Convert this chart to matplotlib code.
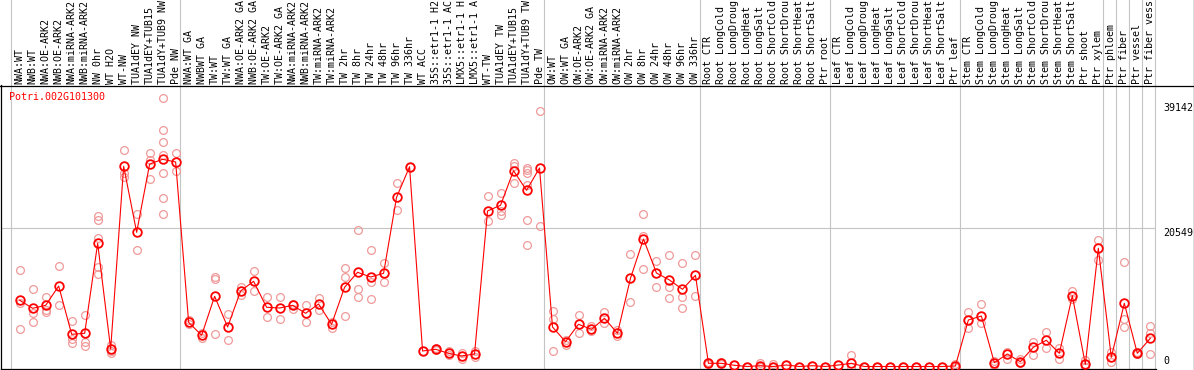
import numpy as np
import matplotlib
matplotlib.use("Agg")
import matplotlib.pyplot as plt
from matplotlib.lines import Line2D
from matplotlib.transforms import blended_transform_factory

plt.rcParams['font.family'] = ['DejaVu Sans Mono']

gene = 'Potri.002G101300'

labels = [
    "NWA:WT", "NWB:WT", "NWA:OE-ARK2", "NWB:OE-ARK2", "NWA:miRNA-ARK2", "NWB:miRNA-ARK2",
    "NW 0hr", "WT H2O", "WT-NW", "TUA1dEY NW", "TUA1dEY+TUB15", "TUA1dY+TUB9 NW", "Pde NW",
    "NWA:WT GA", "NWBWT GA", "TW:WT", "TW:WT GA", "NWA:OE-ARK2 GA", "NWB:OE-ARK2 GA",
    "TW:OE-ARK2", "TW:OE-ARK2 GA", "NWA:miRNA-ARK2", "NWB:miRNA-ARK2", "TW:miRNA-ARK2",
    "TW:miRNA-ARK2", "TW 2hr", "TW 8hr", "TW 24hr", "TW 48hr", "TW 96hr", "TW 336hr",
    "WT ACC", "35S::etr1-1 H2", "35S::etr1-1 AC", "LMX5::etr1-1 H", "LMX5::etr1-1 A",
    "WT-TW", "TUA1dEY TW", "TUA1dEY+TUB15", "TUA1dY+TUB9 TW", "Pde TW",
    "OW:WT", "OW:WT GA", "OW:OE-ARK2", "OW:OE-ARK2 GA", "OW:miRNA-ARK2", "OW:miRNA-ARK2",
    "OW 2hr", "OW 8hr", "OW 24hr", "OW 48hr", "OW 96hr", "OW 336hr",
    "Root CTR", "Root LongCold", "Root LongDroug", "Root LongHeat", "Root LongSalt",
    "Root ShortCold", "Root ShortDrou", "Root ShortHeat", "Root ShortSalt", "Ptr root",
    "Leaf CTR", "Leaf LongCold", "Leaf LongDroug", "Leaf LongHeat", "Leaf LongSalt",
    "Leaf ShortCold", "Leaf ShortDrou", "Leaf ShortHeat", "Leaf ShortSalt", "Ptr leaf",
    "Stem CTR", "Stem LongCold", "Stem LongDroug", "Stem LongHeat", "Stem LongSalt",
    "Stem ShortCold", "Stem ShortDrou", "Stem ShortHeat", "Stem ShortSalt", "Ptr shoot",
    "Ptr xylem", "Ptr phloem", "Ptr fiber", "Ptr vessel", "Ptr fiber vess",
]

# mean expression per sample (red line)
means = [
    9822, 8635, 9080, 11944, 4778, 4926, 18279, 2596, 29704, 19911, 30045, 30742, 30342,
    6558, 4629, 10416, 5861, 11202, 12641, 8783, 8680, 9080, 7893, 9273, 6261, 11751,
    13976, 13279, 13828, 25104, 29644, 2300, 2552, 1958, 1558, 1855, 23072, 23917,
    29051, 26143, 29451,
    5861, 3680, 6261, 5519, 7151, 4926, 13086, 18917, 13873, 12834, 11454, 13531,
    475, 475, 178, 0, 119, 0, 223, 0, 119, 0,
    223, 475, 0, 0, 0, 0, 0, 0, 0, 74,
    6899, 7493, 564, 1855, 712, 2849, 3887, 1958, 10505, 326,
    17537, 1365, 9377, 1958, 4184,
]

# individual replicates (light circles)
reps = [
    [14273, 9466, 5564], [11454, 7893, 6558], [10267, 8383, 8131], [14867, 9080],
    [6751, 4140, 3442], [7597, 3591, 3086], [22330, 21736, 19066, 14807, 13680],
    [3190, 2344, 2048], [32122, 28665, 28161], [22582, 17241], [31677, 30638, 27775],
    [39837, 35090, 33265, 31425, 28665, 24956, 22582], [31677, 29051],
    [6899, 6261], [4926, 4184], [13324, 12938, 4778], [7745, 3932], [11795, 10653],
    [14169, 11157], [10267, 7300], [10267, 7048], [9318, 8576], [9080, 6558],
    [10163, 8383], [6558, 5757], [14570, 13324, 7448], [20208, 11454, 10267],
    [17241, 12537, 9970], [15312, 12493], [27181, 23175], [29644], [2300],
    [2700, 2404], [2300, 1662], [1958, 1157], [2344, 1454], [25342, 21588],
    [25698, 23072, 22478], [30149, 29748, 27181],
    [29451, 29155, 28754, 26885, 21736, 18071], [37864, 20846],
    [8235, 7003, 2300], [3932, 3190], [7597, 4926], [6053, 5267], [8042, 6410],
    [5416, 4525], [16647, 9525], [22582, 19362, 14422], [15608, 11751],
    [16499, 11751, 10119], [15356, 10267, 8635], [16499, 10416],
    [712, 300], [712, 300], [178], [0], [564, 0], [326, 0], [223], [0], [119], [0],
    [223], [1662, 0], [0], [0], [0], [0], [0], [0], [0], [300, 0],
    [8042, 6899, 5668], [9229, 6499], [816, 223], [2151, 1068], [1068, 475],
    [3680, 1662], [5074, 2700], [2700, 1068], [11202, 9970], [964, 0],
    [18769, 15801], [2107, 712], [15460, 7048, 5816], [2151, 1855], [6009, 5015, 1810],
]

# last sample index of each group (vertical separators)
group_ends = [-1, 12, 40, 52, 62, 72, 83, 84, 85, 86, 87]
yticks = [39142, 20549, 0]

W, H = 1194, 370
fig = plt.figure(figsize=(W / 100, H / 100), dpi=100)
ax = fig.add_axes([1 / W, 1 - 369 / H, 1155 / W, 284 / H])
ax.set_facecolor('none')

k = 148.37
ax.set_xlim(-(19.7 - 1) / 13, 87 + (1156 - 1150.3) / 13)
ax.set_ylim((366.5 - 369) * k, (366.5 - 85) * k)
for s in ['top', 'right']:
    ax.spines[s].set_visible(False)
for s in ['left', 'bottom']:
    ax.spines[s].set_color('black')
    ax.spines[s].set_linewidth(0.9)
ax.set_xticks([])
ax.set_yticks([])

xfig = blended_transform_factory(ax.transData, fig.transFigure)
yfig = blended_transform_factory(fig.transFigure, ax.transData)

grid = '#c4c4c4'
for g in group_ends:
    fig.add_artist(Line2D([g + 0.35, g + 0.35], [0, 1], transform=xfig,
                          color=grid, lw=0.8, zorder=-1))
ax.axhline(20549, color=grid, lw=0.8, zorder=0)

# frame pieces outside the axes
fig.add_artist(Line2D([0, 1193.5 / W], [1 - 85.5 / H] * 2, color='black', lw=0.9))
fig.add_artist(Line2D([1193.5 / W] * 2, [0, 1], color='black', lw=0.9))

x = np.arange(len(means))
rx = [i for i, r in enumerate(reps) for _ in r]
ry = [v for r in reps for v in r]
ax.plot(rx, ry, 'o', mfc='none', mec='#f09a9a', ms=5.6, mew=0.9, zorder=2)
ax.plot(x, means, '-', color='red', lw=0.8, zorder=3)
ax.plot(x, means, 'o', mfc='none', mec='red', ms=6.2, mew=1.3, zorder=4)

for i, lab in enumerate(labels):
    ax.text(i, 1 - 84 / H, lab, transform=xfig, rotation=90, ha='center',
            va='bottom', fontsize=7.2, clip_on=False)

fig.text(9.3 / W, 1 - 96.7 / H, gene, color='red', fontsize=7.2, ha='left', va='center')

for v in yticks:
    ax.text(1163 / W, v, str(v), transform=yfig, fontsize=7.2, ha='left',
            va='bottom' if v == 0 else 'top', clip_on=False)

fig.savefig('out.png', dpi=100)
